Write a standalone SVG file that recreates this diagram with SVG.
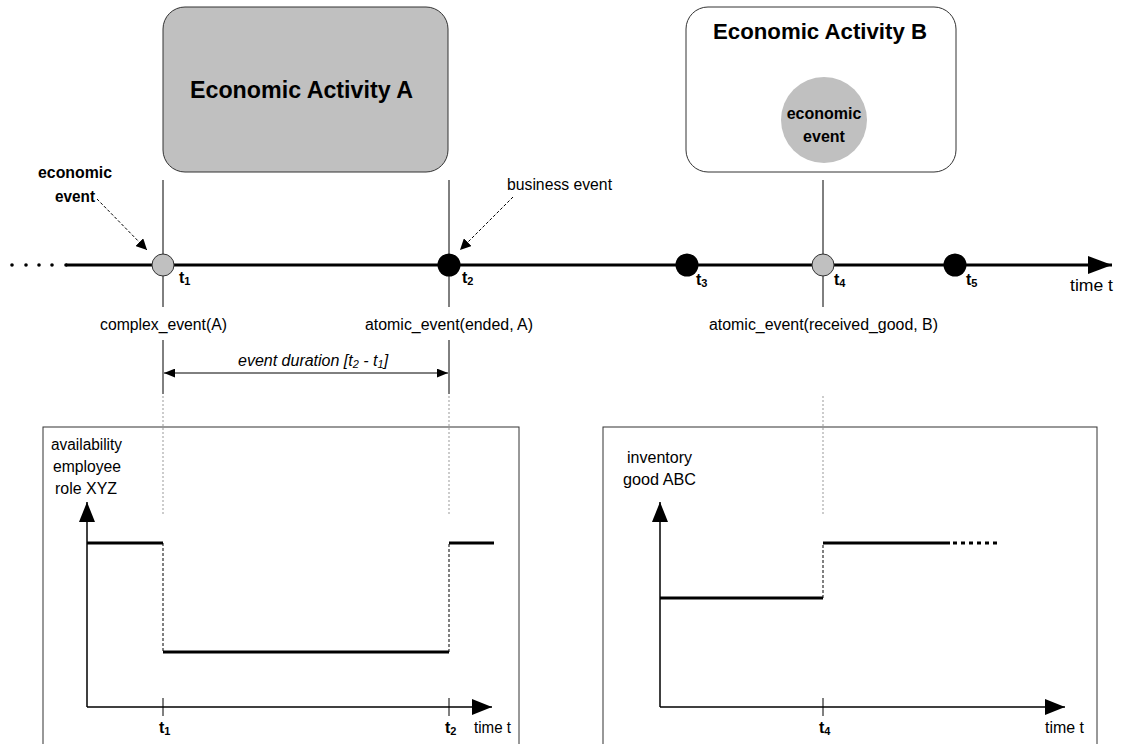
<svg xmlns="http://www.w3.org/2000/svg" width="1125" height="744" viewBox="0 0 1125 744">
  <style>
    text { font-family: "Liberation Sans", Arial, sans-serif; fill: #000; }
    .lbl { font-size: 16px; }
    .bold { font-weight: bold; }
    .tick { font-size: 16px; font-weight: bold; }
    .sub { font-size: 11px; }
    .thin { stroke: #000; stroke-width: 1; fill: none; }
    .axis { stroke: #000; stroke-width: 1.5; fill: none; }
    .thick { stroke: #000; stroke-width: 3; fill: none; }
    .dotted { stroke: #999; stroke-width: 1; stroke-dasharray: 2 2; fill: none; }
    .dashed { stroke: #000; stroke-width: 1; stroke-dasharray: 3 2; fill: none; }
  </style>
  <defs>
    <marker id="bigArrow" viewBox="0 0 10 10" refX="10" refY="5" markerWidth="11" markerHeight="11" markerUnits="userSpaceOnUse" orient="auto">
      <path d="M0,0 L10,5 L0,10 z" fill="#000"/>
    </marker>
    <marker id="axisArrow" viewBox="0 0 20 16" refX="20" refY="8" markerWidth="20" markerHeight="16" markerUnits="userSpaceOnUse" orient="auto">
      <path d="M0,0 L20,8 L0,16 z" fill="#000"/>
    </marker>
    <marker id="timeArrow" viewBox="0 0 24 18" refX="24" refY="9" markerWidth="24" markerHeight="18" markerUnits="userSpaceOnUse" orient="auto">
      <path d="M0,0 L24,9 L0,18 z" fill="#000"/>
    </marker>
    <marker id="smallArrow" viewBox="0 0 10 8" refX="10" refY="4" markerWidth="11" markerHeight="9" markerUnits="userSpaceOnUse" orient="auto-start-reverse">
      <path d="M0,0 L10,4 L0,8 z" fill="#000"/>
    </marker>
  </defs>

  <!-- Activity boxes -->
  <g id="activity-a">
    <rect x="163" y="7" width="285" height="165" rx="22" ry="22" fill="#c0c0c0" stroke="#333" stroke-width="1"/>
    <text x="190" y="98" font-size="24" class="bold" textLength="223" lengthAdjust="spacingAndGlyphs">Economic Activity A</text>
  </g>
  <g id="activity-b">
    <rect x="686" y="7" width="270" height="165" rx="22" ry="22" fill="#fff" stroke="#333" stroke-width="1"/>
    <text x="713" y="39" font-size="22" class="bold" textLength="214" lengthAdjust="spacingAndGlyphs">Economic Activity B</text>
    <circle cx="824" cy="120" r="43" fill="#c0c0c0"/>
    <text x="824" y="119" font-size="16" class="bold" text-anchor="middle">economic</text>
    <text x="824" y="142" font-size="16" class="bold" text-anchor="middle">event</text>
  </g>

  <!-- Connectors: timeline, guides, pointers -->
  <g id="connectors">
    <!-- leading dots -->
    <g fill="#000">
      <circle cx="12" cy="265" r="1.8"/>
      <circle cx="26" cy="265" r="1.8"/>
      <circle cx="39" cy="265" r="1.8"/>
      <circle cx="52" cy="265" r="1.8"/>
      <circle cx="66" cy="265" r="1.8"/>
    </g>
    <line x1="66" y1="265" x2="1112" y2="265" stroke="#000" stroke-width="3" marker-end="url(#timeArrow)"/>

    <!-- vertical guides -->
    <line class="thin" x1="163" y1="180" x2="163" y2="307"/>
    <line class="thin" x1="449" y1="180" x2="449" y2="307"/>
    <line class="thin" x1="823" y1="180" x2="823" y2="307"/>
    <line class="thin" x1="163" y1="340" x2="163" y2="394"/>
    <line class="thin" x1="449" y1="340" x2="449" y2="394"/>

    <!-- duration arrow -->
    <line x1="164" y1="373" x2="448" y2="373" stroke="#000" stroke-width="1" marker-start="url(#smallArrow)" marker-end="url(#smallArrow)"/>

    <!-- dotted projections into charts -->
    <line class="dotted" x1="163" y1="396" x2="163" y2="515"/>
    <line class="dotted" x1="449" y1="396" x2="449" y2="515"/>
    <line class="dotted" x1="823" y1="396" x2="823" y2="515"/>

    <!-- pointer arrows -->
    <line class="dashed" x1="97" y1="199" x2="147" y2="250" marker-end="url(#bigArrow)"/>
    <line class="dashed" x1="513" y1="197" x2="460" y2="250" marker-end="url(#bigArrow)"/>
  </g>

  <!-- Events on the timeline -->
  <g id="event-t1">
    <circle cx="163" cy="265" r="11" fill="#c0c0c0" stroke="#333" stroke-width="1"/>
    <text x="179" y="283" class="tick">t<tspan class="sub" dy="2">1</tspan></text>
  </g>
  <g id="event-t2">
    <circle cx="449" cy="265" r="11.5" fill="#000"/>
    <text x="462" y="283" class="tick">t<tspan class="sub" dy="2">2</tspan></text>
  </g>
  <g id="event-t3">
    <circle cx="687" cy="265" r="11.5" fill="#000"/>
    <text x="696" y="285" class="tick">t<tspan class="sub" dy="2">3</tspan></text>
  </g>
  <g id="event-t4">
    <circle cx="823" cy="265" r="11" fill="#c0c0c0" stroke="#333" stroke-width="1"/>
    <text x="834" y="285" class="tick">t<tspan class="sub" dy="2">4</tspan></text>
  </g>
  <g id="event-t5">
    <circle cx="955" cy="265" r="11.5" fill="#000"/>
    <text x="966" y="285" class="tick">t<tspan class="sub" dy="2">5</tspan></text>
  </g>

  <!-- Timeline labels -->
  <g id="labels">
    <text x="1070" y="291" class="lbl" textLength="43" lengthAdjust="spacingAndGlyphs">time t</text>
    <text x="38" y="178" class="lbl bold" textLength="74" lengthAdjust="spacingAndGlyphs">economic</text>
    <text x="55" y="202" class="lbl bold" textLength="40" lengthAdjust="spacingAndGlyphs">event</text>
    <text x="507" y="190" class="lbl" textLength="105" lengthAdjust="spacingAndGlyphs">business event</text>
    <text x="100" y="330" class="lbl" textLength="127" lengthAdjust="spacingAndGlyphs">complex_event(A)</text>
    <text x="365" y="330" class="lbl" textLength="168" lengthAdjust="spacingAndGlyphs">atomic_event(ended, A)</text>
    <text x="709" y="330" class="lbl" textLength="229" lengthAdjust="spacingAndGlyphs">atomic_event(received_good, B)</text>
    <text x="238" y="366" class="lbl" font-style="italic">event duration [t<tspan font-size="11" dy="2">2</tspan><tspan dy="-2"> - t</tspan><tspan font-size="11" dy="2">1</tspan><tspan dy="-2">]</tspan></text>
  </g>

  <!-- Left chart: employee availability -->
  <g id="chart-availability">
    <rect x="43" y="427" width="476" height="330" fill="none" stroke="#333" stroke-width="1"/>
    <text x="51" y="450" class="lbl" textLength="71" lengthAdjust="spacingAndGlyphs">availability</text>
    <text x="53" y="472" class="lbl" textLength="68" lengthAdjust="spacingAndGlyphs">employee</text>
    <text x="55" y="494" class="lbl" textLength="62" lengthAdjust="spacingAndGlyphs">role XYZ</text>
    <line class="axis" x1="87" y1="707" x2="87" y2="502" marker-end="url(#axisArrow)"/>
    <line class="axis" x1="87" y1="707" x2="492" y2="707" marker-end="url(#axisArrow)"/>
    <line class="thin" x1="163" y1="698" x2="163" y2="716"/>
    <line class="thin" x1="449" y1="698" x2="449" y2="716"/>
    <polyline class="thick" points="87,543 163,543"/>
    <line class="dashed" x1="163" y1="543" x2="163" y2="652"/>
    <polyline class="thick" points="163,652 449,652"/>
    <line class="dashed" x1="449" y1="652" x2="449" y2="543"/>
    <polyline class="thick" points="449,543 494,543"/>
    <text x="159" y="733" class="tick">t<tspan class="sub" dy="2">1</tspan></text>
    <text x="445" y="733" class="tick">t<tspan class="sub" dy="2">2</tspan></text>
    <text x="474" y="733" class="lbl" textLength="37" lengthAdjust="spacingAndGlyphs">time t</text>
  </g>

  <!-- Right chart: inventory -->
  <g id="chart-inventory">
    <rect x="603" y="427" width="494" height="330" fill="none" stroke="#333" stroke-width="1"/>
    <text x="627" y="463" class="lbl" textLength="65" lengthAdjust="spacingAndGlyphs">inventory</text>
    <text x="623" y="485" class="lbl" textLength="73" lengthAdjust="spacingAndGlyphs">good ABC</text>
    <line class="axis" x1="660" y1="707" x2="660" y2="502" marker-end="url(#axisArrow)"/>
    <line class="axis" x1="660" y1="707" x2="1065" y2="707" marker-end="url(#axisArrow)"/>
    <line class="thin" x1="823" y1="698" x2="823" y2="716"/>
    <polyline class="thick" points="660,598 823,598"/>
    <line class="dashed" x1="823" y1="598" x2="823" y2="543"/>
    <polyline class="thick" points="823,543 950,543"/>
    <line x1="953" y1="543" x2="998" y2="543" stroke="#000" stroke-width="3" stroke-dasharray="4 4"/>
    <text x="819" y="733" class="tick">t<tspan class="sub" dy="2">4</tspan></text>
    <text x="1045" y="733" class="lbl" textLength="39" lengthAdjust="spacingAndGlyphs">time t</text>
  </g>
</svg>
